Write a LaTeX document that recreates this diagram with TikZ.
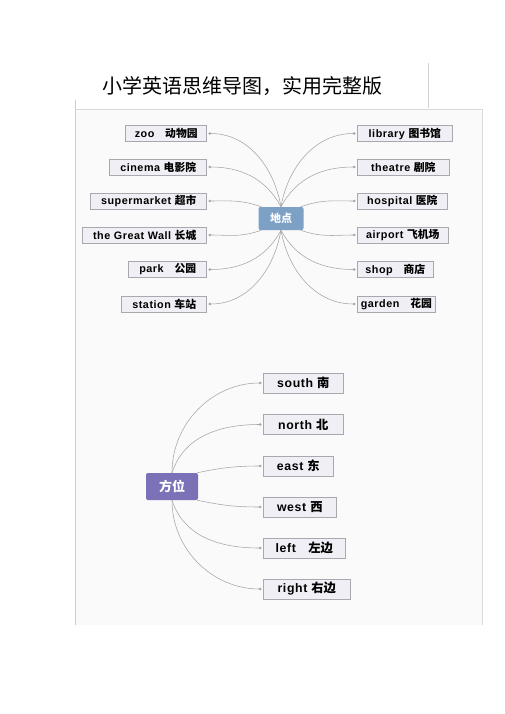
\documentclass[tikz,border=0pt]{standalone}
\usepackage{fontspec}
\setmainfont{Liberation Sans}
\newfontfamily\cjk{Noto Sans CJK SC}
\newfontfamily\leaffont[LetterSpace=5]{Liberation Sans}
\usetikzlibrary{positioning, arrows.meta}
\definecolor{HubBlue}{RGB}{124,161,197}
\definecolor{HubPurple}{RGB}{122,113,182}
\definecolor{LeafFill}{RGB}{239,239,245}
\definecolor{LeafLine}{RGB}{168,168,174}
\definecolor{LinkGray}{RGB}{165,165,170}
\newcommand{\zh}[1]{{\cjk\bfseries #1}}

\begin{document}
\begin{tikzpicture}[x=1pt, y=1pt,
    leaf/.style={draw=LeafLine, fill=LeafFill, line width=0.6pt, inner sep=2pt,
                 minimum height=16pt, font=\leaffont\bfseries\fontsize{10.8}{12}\selectfont},
    bigleaf/.style={leaf, minimum height=20pt, font=\leaffont\bfseries\fontsize{12.3}{14}\selectfont},
    hub/.style={draw=none, rounded corners=2pt, text=white, inner sep=0pt},
    link/.style={LinkGray, line width=0.55pt, -{Circle[length=2.6pt]}, shorten >=1.5pt}]
    \useasboundingbox (0,0) rectangle (505,-714);
    % Title
    \node (title) at (242,-86) {\cjk\fontsize{20}{24}\selectfont 小学英语思维导图，实用完整版};
    \draw[gray!35, line width=0.6pt] (428,-63) -- (428,-108);
    % Frame
    \fill[black!2] (75,-109) rectangle (482,-625);
    \draw[gray!40, line width=0.7pt] (75,-100) -- (75,-625);
    \draw[gray!30, line width=0.6pt] (75,-109) -- (482,-109) -- (482,-625);

    % Map 1: places
    \node[hub, fill=HubBlue, minimum width=45pt, minimum height=23pt,
          font=\cjk\bfseries\fontsize{11}{12}\selectfont] (place) at (281,-218.5) {地点};
    % Left branches
    \node[leaf, anchor=east, minimum width=81pt]  (zoo)    at (207,-133.5) {zoo\quad \zh{动物园}};
    \node[leaf, anchor=east, minimum width=97pt]  (cinema) at (207,-167)   {cinema \zh{电影院}};
    \node[leaf, anchor=east, minimum width=116pt] (market) at (207,-201)   {supermarket \zh{超市}};
    \node[leaf, anchor=east, minimum width=124pt] (wall)   at (207,-235)   {the Great Wall \zh{长城}};
    \node[leaf, anchor=east, minimum width=78pt]  (park)   at (207,-269.5) {park\quad \zh{公园}};
    \node[leaf, anchor=east, minimum width=85pt]  (station) at (207,-304)  {station \zh{车站}};
    % Right branches
    \node[leaf, anchor=west, minimum width=95pt] (library)  at (357,-133.5) {library \zh{图书馆}};
    \node[leaf, anchor=west, minimum width=92pt] (theatre)  at (357,-167)   {theatre \zh{剧院}};
    \node[leaf, anchor=west, minimum width=90pt] (hospital) at (357,-201)   {hospital \zh{医院}};
    \node[leaf, anchor=west, minimum width=91pt] (airport)  at (357,-235)   {airport \zh{飞机场}};
    \node[leaf, anchor=west, minimum width=76pt] (shop)     at (357,-269.5) {shop\quad \zh{商店}};
    \node[leaf, anchor=west, minimum width=78pt] (garden)   at (357,-304)   {garden\quad \zh{花园}};
    % Links
    \draw[link] (place.north) to[out=100, in=0] (zoo.east);
    \draw[link] (place.north) to[out=118, in=0] (cinema.east);
    \draw[link] ([xshift=3pt]place.north west) to[out=160, in=0] (market.east);
    \draw[link] ([xshift=3pt]place.south west) to[out=200, in=0] (wall.east);
    \draw[link] (place.south) to[out=242, in=0] (park.east);
    \draw[link] (place.south) to[out=260, in=0] (station.east);
    \draw[link] (place.north) to[out=80, in=180] (library.west);
    \draw[link] (place.north) to[out=62, in=180] (theatre.west);
    \draw[link] ([xshift=-3pt]place.north east) to[out=20, in=180] (hospital.west);
    \draw[link] ([xshift=-3pt]place.south east) to[out=-20, in=180] (airport.west);
    \draw[link] (place.south) to[out=-62, in=180] (shop.west);
    \draw[link] (place.south) to[out=-80, in=180] (garden.west);

    % Map 2: directions
    \node[hub, fill=HubPurple, minimum width=52pt, minimum height=27pt,
          font=\cjk\bfseries\fontsize{13}{14}\selectfont] (dir) at (172,-486.5) {方位};
    \node[bigleaf, anchor=west, minimum width=80pt] (south) at (263,-383)   {south \zh{南}};
    \node[bigleaf, anchor=west, minimum width=80pt] (north) at (263,-424.5) {north \zh{北}};
    \node[bigleaf, anchor=west, minimum width=70pt] (east)  at (263,-466)   {east \zh{东}};
    \node[bigleaf, anchor=west, minimum width=73pt] (west)  at (263,-507)   {west \zh{西}};
    \node[bigleaf, anchor=west, minimum width=82pt] (left)  at (263,-548)   {left\quad \zh{左边}};
    \node[bigleaf, anchor=west, minimum width=87pt] (right) at (263,-589)   {right \zh{右边}};
    % Links
    \draw[link] (dir.north) to[out=90, in=180] (south.west);
    \draw[link] (dir.north) to[out=72, in=180] (north.west);
    \draw[link] ([xshift=-1pt]dir.north east) to[out=12, in=180] (east.west);
    \draw[link] ([xshift=-1pt]dir.south east) to[out=-12, in=180] (west.west);
    \draw[link] (dir.south) to[out=-72, in=180] (left.west);
    \draw[link] (dir.south) to[out=-90, in=180] (right.west);
\end{tikzpicture}
\end{document}
